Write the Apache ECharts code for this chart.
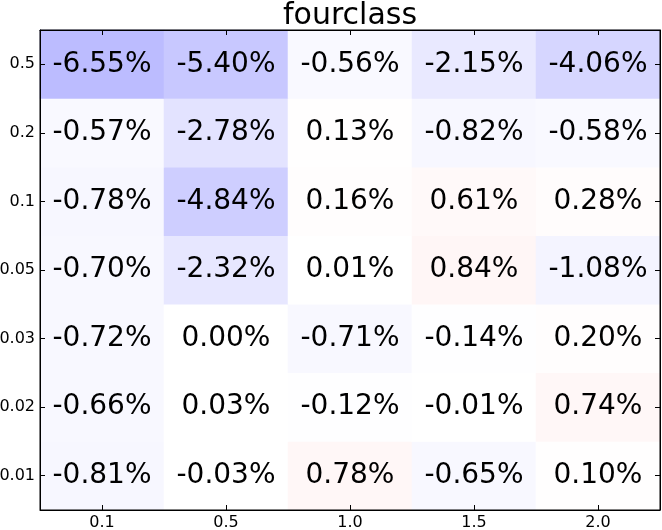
<!DOCTYPE html>
<html><head><meta charset="utf-8">
<script src="https://cdn.jsdelivr.net/npm/echarts@6/dist/echarts.min.js"></script>
<style>html,body{margin:0;padding:0;background:#fff}#c{width:662px;height:530px}</style>
</head><body><div id="c"></div>
<script>
var xCats = ['0.1', '0.5', '1.0', '1.5', '2.0'];
var yCats = ['0.01', '0.02', '0.03', '0.05', '0.1', '0.2', '0.5'];
// rows listed bottom (0.01) to top (0.5), values in percent
var row001 = [-0.81, -0.03, 0.78, -0.65, 0.10];
var row002 = [-0.66, 0.03, -0.12, -0.01, 0.74];
var row003 = [-0.72, 0.00, -0.71, -0.14, 0.20];
var row005 = [-0.70, -2.32, 0.01, 0.84, -1.08];
var row01 = [-0.78, -4.84, 0.16, 0.61, 0.28];
var row02 = [-0.57, -2.78, 0.13, -0.82, -0.58];
var row05 = [-6.55, -5.40, -0.56, -2.15, -4.06];
var rows = [row001, row002, row003, row005, row01, row02, row05];

var data = [];
rows.forEach(function (r, yi) { r.forEach(function (v, xi) { data.push([xi, yi, v]); }); });

var font = 'DejaVu Sans';
var chart = echarts.init(document.getElementById('c'));
function tick() { return { show: true, inside: true, length: 5, alignWithLabel: true, lineStyle: { color: '#000', width: 1 } }; }
function line() { return { show: true, onZero: false, lineStyle: { color: '#000', width: 1 } }; }
chart.setOption({
  animation: false,
  title: { text: 'fourclass', left: 345, textAlign: 'center', top: -4, textStyle: { fontFamily: font, fontSize: 30, fontWeight: 'normal', color: '#000' } },
  grid: { left: 40, right: 2, top: 30, bottom: 20, z: 10, show: true, borderColor: '#000', borderWidth: 1,
    backgroundColor: 'transparent', containLabel: false, outerBoundsMode: 'none' },
  xAxis: [
    { type: 'category', data: xCats, position: 'bottom', z: 10, axisLine: line(), axisTick: tick(), splitLine: { show: false },
      axisLabel: { fontFamily: font, fontSize: 16, color: '#000', margin: 5 } },
    { type: 'category', data: xCats, position: 'top', z: 10, axisLine: line(), axisTick: tick(), axisLabel: { show: false } }
  ],
  yAxis: [
    { type: 'category', data: yCats, position: 'left', z: 10, axisLine: line(), axisTick: tick(), splitLine: { show: false },
      axisLabel: { fontFamily: font, fontSize: 16, color: '#000', margin: 5 } },
    { type: 'category', data: yCats, position: 'right', z: 10, axisLine: line(), axisTick: tick(), axisLabel: { show: false } }
  ],
  visualMap: { show: false, min: -25, max: 25, dimension: 2, inRange: { color: ['#0000ff', '#ffffff', '#ff0000'] } },
  series: [{
    type: 'heatmap', data: data, z: 0,
    label: { show: true, fontFamily: font, fontSize: 28, color: '#000',
      formatter: function (p) { return p.value[2].toFixed(2) + '%'; } },
    emphasis: { disabled: true }
  }]
});
</script></body></html>
